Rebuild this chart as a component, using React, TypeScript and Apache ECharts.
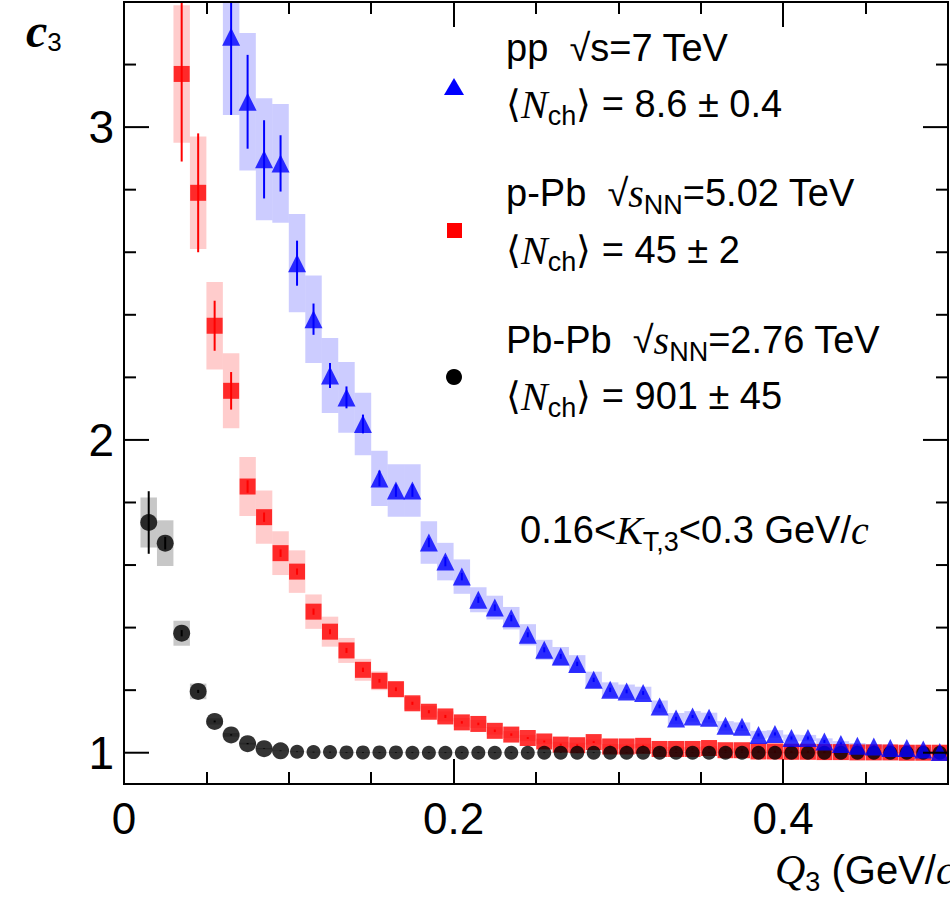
import React, { useEffect, useRef } from "react";
import * as echarts from "echarts";

// Q3 bin centres (GeV/c)
const qPbPb = [0.015, 0.025, 0.035, 0.045, 0.055, 0.065, 0.075, 0.085, 0.095, 0.105, 0.115, 0.125, 0.135, 0.145, 0.155, 0.165, 0.175, 0.185, 0.195, 0.205, 0.215, 0.225, 0.235, 0.245, 0.255, 0.265, 0.275, 0.285, 0.295, 0.305, 0.315, 0.325, 0.335, 0.345, 0.355, 0.365, 0.375, 0.385, 0.395, 0.405, 0.415, 0.425, 0.435, 0.445, 0.455, 0.465, 0.475, 0.485, 0.495];
const c3PbPb = [1.736, 1.67, 1.382, 1.196, 1.1, 1.057, 1.029, 1.013, 1.006, 1.003, 1.002, 1.002, 1.001, 1.001, 1.001, 1.001, 1.0, 1.0, 1.0, 1.0, 1.0, 1.0, 1.0, 1.0, 1.0, 1.0, 1.0, 1.0, 1.0, 1.0, 1.0, 1.0, 1.0, 1.0, 1.0, 1.0, 1.0, 1.0, 1.0, 1.0, 1.0, 1.0, 1.0, 1.0, 1.0, 1.0, 1.0, 1.0, 1.0];
const errPbPb = [0.1, 0.02, 0.01, 0.005, 0.003, 0.002, 0.002, 0.001, 0.001, 0.001, 0.001, 0.001, 0.001, 0.001, 0.001, 0.001, 0.001, 0.001, 0.001, 0.001, 0.001, 0.001, 0.001, 0.001, 0.001, 0.001, 0.001, 0.001, 0.001, 0.001, 0.001, 0.001, 0.001, 0.001, 0.001, 0.001, 0.001, 0.001, 0.001, 0.001, 0.001, 0.001, 0.001, 0.001, 0.001, 0.001, 0.001, 0.001, 0.001];
const sysPbPb = [0.08, 0.073, 0.04, 0.025, 0.01, 0.006, 0.003, 0.002, 0.001, 0.001, 0.001, 0.001, 0.001, 0.001, 0.001, 0.001, 0.001, 0.001, 0.001, 0.001, 0.001, 0.001, 0.001, 0.001, 0.001, 0.001, 0.001, 0.001, 0.001, 0.001, 0.001, 0.001, 0.001, 0.001, 0.001, 0.001, 0.001, 0.001, 0.001, 0.001, 0.001, 0.001, 0.001, 0.001, 0.001, 0.001, 0.001, 0.001, 0.001];

const qPPb = [0.035, 0.045, 0.055, 0.065, 0.075, 0.085, 0.095, 0.105, 0.115, 0.125, 0.135, 0.145, 0.155, 0.165, 0.175, 0.185, 0.195, 0.205, 0.215, 0.225, 0.235, 0.245, 0.255, 0.265, 0.275, 0.285, 0.295, 0.305, 0.315, 0.325, 0.335, 0.345, 0.355, 0.365, 0.375, 0.385, 0.395, 0.405, 0.415, 0.425, 0.435, 0.445, 0.455, 0.465, 0.475, 0.485, 0.495];
const c3PPb = [3.17, 2.79, 2.365, 2.157, 1.851, 1.753, 1.638, 1.579, 1.451, 1.387, 1.327, 1.265, 1.23, 1.203, 1.158, 1.131, 1.116, 1.097, 1.092, 1.07, 1.058, 1.047, 1.036, 1.026, 1.024, 1.034, 1.02, 1.02, 1.022, 1.012, 1.012, 1.012, 1.015, 1.008, 1.008, 1.004, 1.004, 1.003, 1.003, 1.002, 1.002, 1.001, 1.001, 1.001, 1.0, 1.0, 1.0];
const errPPb = [0.28, 0.19, 0.08, 0.06, 0.02, 0.015, 0.012, 0.01, 0.01, 0.008, 0.008, 0.007, 0.006, 0.006, 0.005, 0.005, 0.005, 0.004, 0.004, 0.004, 0.004, 0.003, 0.003, 0.003, 0.003, 0.003, 0.003, 0.003, 0.003, 0.003, 0.003, 0.003, 0.003, 0.003, 0.003, 0.003, 0.003, 0.003, 0.003, 0.003, 0.003, 0.003, 0.003, 0.003, 0.003, 0.003, 0.003];
const sysPPb = [0.22, 0.18, 0.14, 0.12, 0.094, 0.085, 0.07, 0.068, 0.055, 0.048, 0.04, 0.035, 0.03, 0.025, 0.02, 0.018, 0.016, 0.014, 0.013, 0.012, 0.011, 0.01, 0.009, 0.009, 0.008, 0.008, 0.008, 0.007, 0.007, 0.007, 0.007, 0.006, 0.006, 0.006, 0.006, 0.006, 0.006, 0.006, 0.006, 0.006, 0.006, 0.006, 0.006, 0.006, 0.006, 0.006, 0.006];

const qPP = [0.065, 0.075, 0.085, 0.095, 0.105, 0.115, 0.125, 0.135, 0.145, 0.155, 0.165, 0.175, 0.185, 0.195, 0.205, 0.215, 0.225, 0.235, 0.245, 0.255, 0.265, 0.275, 0.285, 0.295, 0.305, 0.315, 0.325, 0.335, 0.345, 0.355, 0.365, 0.375, 0.385, 0.395, 0.405, 0.415, 0.425, 0.435, 0.445, 0.455, 0.465, 0.475, 0.485, 0.495];
const c3PP = [3.289, 3.081, 2.897, 2.884, 2.565, 2.386, 2.206, 2.136, 2.051, 1.877, 1.838, 1.838, 1.672, 1.611, 1.563, 1.489, 1.464, 1.43, 1.377, 1.329, 1.308, 1.284, 1.233, 1.201, 1.196, 1.191, 1.148, 1.109, 1.116, 1.112, 1.086, 1.083, 1.057, 1.06, 1.047, 1.047, 1.036, 1.028, 1.022, 1.02, 1.015, 1.015, 1.01, 1.002];
const errPP = [0.25, 0.15, 0.125, 0.09, 0.072, 0.05, 0.04, 0.035, 0.03, 0.025, 0.02, 0.02, 0.015, 0.015, 0.012, 0.01, 0.01, 0.01, 0.008, 0.008, 0.008, 0.007, 0.007, 0.007, 0.006, 0.006, 0.006, 0.006, 0.005, 0.005, 0.005, 0.005, 0.005, 0.005, 0.005, 0.005, 0.005, 0.005, 0.005, 0.005, 0.005, 0.005, 0.005, 0.005];
const sysPP = [0.25, 0.22, 0.195, 0.19, 0.157, 0.14, 0.12, 0.113, 0.1, 0.088, 0.084, 0.084, 0.068, 0.06, 0.055, 0.04, 0.038, 0.036, 0.034, 0.032, 0.03, 0.028, 0.026, 0.024, 0.022, 0.02, 0.019, 0.018, 0.017, 0.016, 0.015, 0.014, 0.013, 0.012, 0.011, 0.01, 0.01, 0.009, 0.009, 0.008, 0.008, 0.008, 0.008, 0.008];

// y-axis ticks (major at integers)
const yTicks = [1.0, 1.2, 1.4, 1.6, 1.8, 2.0, 2.2, 2.4, 2.6, 2.8, 3.0, 3.2, 3.4];
const yLabels = [1, 2, 3];

const BIN_HALF = 0.005;
const FONT = "Liberation Sans";

const zip = (q: number[], v: number[], e: number[], s: number[]) =>
  q.map((x, i) => [x, v[i], e[i], s[i]]);

const boxSeries = (data: number[][], fill: string, line: string) => ({
  type: "custom",
  clip: true,
  data,
  z: 2,
  renderItem: (_p: any, api: any) => {
    const x = api.value(0), y = api.value(1), e = api.value(2), s = api.value(3);
    const tl = api.coord([x - BIN_HALF, y + s]);
    const br = api.coord([x + BIN_HALF, y - s]);
    const top = api.coord([x, y + e]);
    const bot = api.coord([x, y - e]);
    return {
      type: "group",
      children: [
        { type: "rect", shape: { x: tl[0], y: tl[1], width: br[0] - tl[0], height: br[1] - tl[1] }, style: { fill } },
        { type: "line", shape: { x1: top[0], y1: top[1], x2: bot[0], y2: bot[1] }, style: { stroke: line, lineWidth: 2 } },
      ],
    };
  },
});

const App: React.FC = () => {
  const chartRef = useRef<HTMLDivElement>(null);

  useEffect(() => {
    document.body.style.margin = "0";
    const chartDom = chartRef.current;
    if (!chartDom) return;
    const myChart = echarts.init(chartDom, undefined, { renderer: "svg" });

    const tickSeries = {
      type: "custom",
      clip: false,
      data: yTicks.map((t) => [t]),
      z: 10,
      renderItem: (_p: any, api: any) => {
        const t = api.value(0);
        const major = Math.abs(t - Math.round(t)) < 1e-6;
        const len = major ? 25 : 12;
        const l = api.coord([0, t]);
        const r = api.coord([0.5, t]);
        return {
          type: "group",
          children: [
            { type: "line", shape: { x1: l[0], y1: l[1], x2: l[0] + len, y2: l[1] }, style: { stroke: "#000", lineWidth: 2 } },
            { type: "line", shape: { x1: r[0], y1: r[1], x2: r[0] - len, y2: r[1] }, style: { stroke: "#000", lineWidth: 2 } },
          ],
        };
      },
    };

    const rich = {
      n: { fontFamily: "Liberation Serif", fontStyle: "italic", fontSize: 40, color: "#000" },
      sub: { fontFamily: FONT, fontSize: 27, color: "#000", padding: [24, 0, 0, 0] },
      t: { fontFamily: FONT, fontSize: 38, color: "#000" },
    };

    const txt = (x: number, y: number, text: string) => ({
      type: "text",
      x,
      y,
      style: { text, rich, fontFamily: FONT, fontSize: 38, fill: "#000", verticalAlign: "middle" },
    });

    const xAxisBase = {
      type: "value",
      min: 0,
      max: 0.5,
      interval: 0.2,
      axisLine: { show: false },
      splitLine: { show: false },
      axisTick: { inside: true, length: 25, lineStyle: { color: "#000", width: 2 } },
      minorTick: { show: true, splitNumber: 4, length: 12, lineStyle: { color: "#000", width: 2 } },
    };

    const option: any = {
      animation: false,
      grid: { left: 124, right: 2, top: 2, bottom: 124, outerBoundsMode: "none", containLabel: false },
      xAxis: [
        {
          ...xAxisBase,
          axisLabel: { fontFamily: FONT, fontSize: 44, color: "#000", margin: 12, showMaxLabel: false, formatter: (v: number) => String(+v.toFixed(1)) },
        },
        { ...xAxisBase, position: "top", axisLabel: { show: false } },
      ],
      yAxis: {
        type: "value",
        min: 0.9,
        max: 3.4,
        interval: 0.1,
        axisLine: { show: false },
        splitLine: { show: false },
        axisTick: { show: false },
        axisLabel: {
          fontFamily: FONT,
          fontSize: 46,
          color: "#000",
          margin: 10,
          formatter: (v: number) => {
            const r = Math.round(v);
            return Math.abs(v - r) < 1e-6 && yLabels.includes(r) ? String(r) : "";
          },
        },
      },
      series: [
        boxSeries(zip(qPbPb, c3PbPb, errPbPb, sysPbPb), "rgba(0,0,0,0.22)", "#000"),
        boxSeries(zip(qPPb, c3PPb, errPPb, sysPPb), "rgba(255,0,0,0.2)", "#f00"),
        boxSeries(zip(qPP, c3PP, errPP, sysPP), "rgba(0,0,255,0.2)", "#00f"),
        { type: "scatter", data: qPbPb.map((x, i) => [x, c3PbPb[i]]), symbol: "circle", symbolSize: (v: number[]) => (v[0] < 0.1 ? 17 : 14), itemStyle: { color: "#000" }, z: 5 },
        { type: "scatter", data: qPPb.map((x, i) => [x, c3PPb[i]]), symbol: "rect", symbolSize: 16, itemStyle: { color: "#f00" }, z: 4 },
        { type: "scatter", data: qPP.map((x, i) => [x, c3PP[i]]), symbol: "triangle", symbolSize: 18, itemStyle: { color: "#00f" }, z: 6 },
        tickSeries,
      ],
      graphic: [
        { type: "rect", shape: { x: 124, y: 2, width: 824, height: 782 }, style: { fill: "none", stroke: "#000", lineWidth: 2 }, z: 20 },
        // y title
        { type: "text", x: 26, y: 30, style: { text: "{c|c}{s|3}", rich: { c: { fontFamily: "Liberation Serif", fontStyle: "italic", fontWeight: "bold", fontSize: 48, color: "#000" }, s: { fontFamily: FONT, fontSize: 26, color: "#000", padding: [24, 0, 0, 0] } }, verticalAlign: "middle" } },
        // x title
        { type: "text", x: 775, y: 870, style: { text: "{n|Q}{sub|3}{t| (GeV/}{n|c}{t|)}", rich: { ...rich, n: { ...rich.n, fontSize: 42 }, t: { ...rich.t, fontSize: 40 } }, verticalAlign: "middle" } },
        // legend
        txt(506, 48, "{t|pp  √s=7 TeV}"),
        txt(506, 104, "{t|⟨}{n|N}{sub|ch}{t|⟩ = 8.6 ± 0.4}"),
        txt(506, 193, "{t|p-Pb  √}{n|s}{sub|NN}{t|=5.02 TeV}"),
        txt(506, 250, "{t|⟨}{n|N}{sub|ch}{t|⟩ = 45 ± 2}"),
        txt(506, 340, "{t|Pb-Pb  √}{n|s}{sub|NN}{t|=2.76 TeV}"),
        txt(506, 396, "{t|⟨}{n|N}{sub|ch}{t|⟩ = 901 ± 45}"),
        txt(520, 530, "{t|0.16<}{n|K}{sub|T,3}{t|<0.3 GeV/}{n|c}"),
        { type: "polygon", shape: { points: [[454, 78], [444, 95], [464, 95]] }, style: { fill: "#00f" } },
        { type: "rect", shape: { x: 447, y: 223, width: 15, height: 15 }, style: { fill: "#f00" } },
        { type: "circle", shape: { cx: 454, cy: 377, r: 8 }, style: { fill: "#000" } },
      ],
    };

    myChart.setOption(option);
    return () => {
      myChart.dispose();
    };
  }, []);

  return <div ref={chartRef} style={{ width: "950px", height: "908px" }} />;
};

export default App;
